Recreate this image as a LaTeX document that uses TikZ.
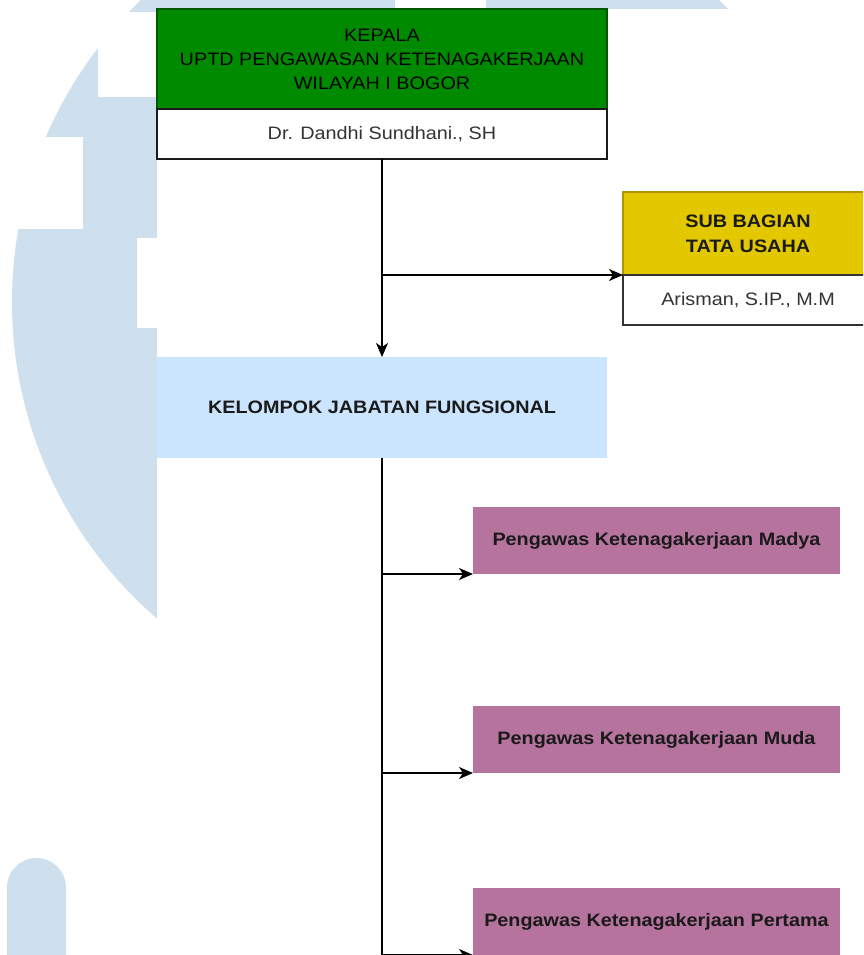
\documentclass[tikz,border=0pt]{standalone}
\usepackage{fontspec}
\newfontfamily\arialw{Liberation Sans}[FakeStretch=1.1]
\usetikzlibrary{arrows.meta}
\definecolor{wm}{RGB}{206,223,237}
\definecolor{kgreen}{HTML}{008A00}
\definecolor{kgreenb}{HTML}{005700}
\definecolor{kyellow}{HTML}{E3C800}
\definecolor{kyellowb}{HTML}{B09500}
\definecolor{kblue}{HTML}{CCE5FF}
\definecolor{kpurple}{HTML}{B5739D}
\definecolor{tdark}{HTML}{1A1A1A}
\definecolor{tgray}{HTML}{333333}
\begin{document}
\begin{tikzpicture}[x=1pt,y=-1pt,
  box/.style={rectangle, inner sep=0pt, outer sep=0pt, align=center, line width=1.3pt,
    font=\arialw\fontsize{18}{24}\selectfont},
  boldbox/.style={box, font=\arialw\bfseries\fontsize{18}{25}\selectfont, text=tdark},
  purplebox/.style={boldbox, fill=kpurple, minimum width=367pt, minimum height=67pt},
  plainline/.style={line width=1.4pt, black},
  conn/.style={plainline, -{Stealth[length=14pt,width=12pt,inset=4pt]}}
]
\useasboundingbox (0,0) rectangle (863,955);
\clip (0,0) rectangle (863,955);
% watermark
\fill[wm] (430,302) circle[radius=418];
\fill[white] (98,12) rectangle (440,97);
\fill[white] (-10,137) rectangle (83,229);
\fill[white] (137,238) rectangle (440,328);
\fill[white] (395,-10) rectangle (486,12);
\fill[wm, rounded corners=29.5pt] (7,1000) rectangle (66,858);
% diagram background
\fill[white] (157,9) rectangle (880,970);
% nodes
\node[box, fill=kgreen, draw=kgreenb, text=black, minimum width=450pt, minimum height=100pt] (kepala) at (382,59)
  {KEPALA\\UPTD PENGAWASAN KETENAGAKERJAAN\\WILAYAH I BOGOR};
\node[box, fill=white, draw=tdark, text=tgray, minimum width=450pt, minimum height=50pt] (kepalaname) at (382,134)
  {Dr. Dandhi Sundhani., SH};
\node[boldbox, fill=kyellow, draw=kyellowb, minimum width=250pt, minimum height=83pt] (sub) at (748,233.5)
  {SUB BAGIAN\\TATA USAHA};
\node[box, fill=white, draw=tgray, text=tgray, minimum width=250pt, minimum height=50pt] (subname) at (748,300)
  {Arisman, S.IP., M.M};
\node[boldbox, fill=kblue, minimum width=450pt, minimum height=101pt] (kjf) at (382,407.5)
  {KELOMPOK JABATAN FUNGSIONAL};
\node[purplebox] (madya) at (656.5,540.5) {Pengawas Ketenagakerjaan Madya};
\node[purplebox] (muda) at (656.5,739.5) {Pengawas Ketenagakerjaan Muda};
\node[purplebox] (pertama) at (656.5,921.5) {Pengawas Ketenagakerjaan Pertama};
% connectors
\draw[conn] (kepalaname.south) -- (kjf.north);
\coordinate (b1) at (kepalaname.south |- sub.south west);
\draw[conn] (b1) -- (sub.south west);
\coordinate (bot) at (382,965);
\draw[plainline] (kjf.south) -- (bot);
\draw[conn] (kjf.south |- madya.south west) -- (madya.south west);
\draw[conn] (kjf.south |- muda.south west) -- (muda.south west);
\draw[conn] (kjf.south |- pertama.south west) -- (pertama.south west);
\end{tikzpicture}
\end{document}
